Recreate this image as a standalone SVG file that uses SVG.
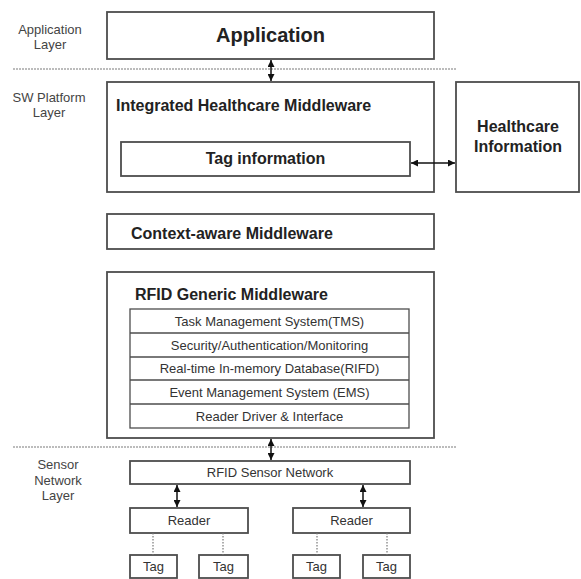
<svg xmlns="http://www.w3.org/2000/svg" width="581" height="579" viewBox="0 0 581 579">
  <style>
    .box { fill: #ffffff; stroke: #4d4d4d; stroke-width: 1.8; }
    .row { fill: none; stroke: #4d4d4d; stroke-width: 1.3; }
    .b16 { font-family: "Liberation Sans", Arial, sans-serif; font-weight: bold; font-size: 16px; fill: #222; }
    .b20 { font-family: "Liberation Sans", Arial, sans-serif; font-weight: bold; font-size: 20px; fill: #222; }
    .r13 { font-family: "Liberation Sans", Arial, sans-serif; font-size: 13px; fill: #333; }
    .lbl { font-family: "Liberation Sans", Arial, sans-serif; font-size: 13px; fill: #444; text-anchor: middle; }
    .mid { text-anchor: middle; }
    .layer { stroke: #a6a6a6; stroke-width: 1.6; stroke-dasharray: 2 1; fill: none; }
    .dot { stroke: #777; stroke-width: 1.2; stroke-dasharray: 1.5 1.5; fill: none; }
    .arr { stroke: #111; stroke-width: 1.5; fill: none; marker-start: url(#ah); marker-end: url(#ah); }
  </style>
  <defs>
    <marker id="ah" viewBox="0 0 7 7" refX="7" refY="3.5" markerWidth="7" markerHeight="7" orient="auto-start-reverse" markerUnits="userSpaceOnUse">
      <path d="M0,0 L7,3.5 L0,7 z" fill="#111"/>
    </marker>
  </defs>

  <g id="layer-labels">
    <text class="lbl" x="50" y="34">Application</text>
    <text class="lbl" x="50" y="49">Layer</text>
    <text class="lbl" x="49" y="102">SW Platform</text>
    <text class="lbl" x="49" y="117">Layer</text>
    <text class="lbl" x="58" y="469">Sensor</text>
    <text class="lbl" x="58" y="485">Network</text>
    <text class="lbl" x="58" y="500">Layer</text>
  </g>

  <g id="layer-lines">
    <line class="layer" x1="13" y1="69" x2="457" y2="69"/>
    <line class="layer" x1="13" y1="447" x2="457" y2="447"/>
  </g>

  <g id="application">
    <rect class="box" x="107" y="12" width="327" height="47"/>
    <text class="b20 mid" x="270.5" y="42">Application</text>
  </g>

  <g id="integrated-healthcare-middleware">
    <rect class="box" x="107" y="82" width="327" height="110"/>
    <text class="b16" x="116" y="111">Integrated Healthcare Middleware</text>
  </g>

  <g id="tag-information">
    <rect class="box" x="121" y="142" width="289" height="34"/>
    <text class="b16 mid" x="265.5" y="164">Tag information</text>
  </g>

  <g id="healthcare-information">
    <rect class="box" x="456" y="82" width="123" height="110"/>
    <text class="b16 mid" x="518" y="132">Healthcare</text>
    <text class="b16 mid" x="518" y="152">Information</text>
  </g>

  <g id="context-aware-middleware">
    <rect class="box" x="107" y="214" width="327" height="35"/>
    <text class="b16" x="131" y="239">Context-aware Middleware</text>
  </g>

  <g id="rfid-generic-middleware">
    <rect class="box" x="107" y="272" width="327" height="166"/>
    <text class="b16" x="135" y="300">RFID Generic Middleware</text>
    <rect class="row" x="130" y="309" width="279" height="119"/>
    <line class="row" x1="130" y1="333" x2="409" y2="333"/>
    <line class="row" x1="130" y1="357" x2="409" y2="357"/>
    <line class="row" x1="130" y1="380" x2="409" y2="380"/>
    <line class="row" x1="130" y1="404" x2="409" y2="404"/>
    <text class="r13 mid" x="269.5" y="326">Task Management System(TMS)</text>
    <text class="r13 mid" x="269.5" y="350">Security/Authentication/Monitoring</text>
    <text class="r13 mid" x="269.5" y="373">Real-time In-memory Database(RIFD)</text>
    <text class="r13 mid" x="269.5" y="397">Event Management System (EMS)</text>
    <text class="r13 mid" x="269.5" y="421">Reader Driver &amp; Interface</text>
  </g>

  <g id="rfid-sensor-network">
    <rect class="box" x="130" y="461" width="280" height="23"/>
    <text class="r13 mid" x="270" y="477">RFID Sensor Network</text>
  </g>

  <g id="reader-left">
    <rect class="box" x="130" y="508" width="118" height="25"/>
    <text class="r13 mid" x="189" y="525">Reader</text>
  </g>
  <g id="reader-right">
    <rect class="box" x="293" y="508" width="117" height="25"/>
    <text class="r13 mid" x="351.5" y="525">Reader</text>
  </g>

  <g id="tag-1">
    <rect class="box" x="130" y="555" width="47" height="23"/>
    <text class="r13 mid" x="153.5" y="571">Tag</text>
  </g>
  <g id="tag-2">
    <rect class="box" x="199" y="555" width="49" height="23"/>
    <text class="r13 mid" x="223.5" y="571">Tag</text>
  </g>
  <g id="tag-3">
    <rect class="box" x="293" y="555" width="47" height="23"/>
    <text class="r13 mid" x="316.5" y="571">Tag</text>
  </g>
  <g id="tag-4">
    <rect class="box" x="363" y="555" width="47" height="23"/>
    <text class="r13 mid" x="386.5" y="571">Tag</text>
  </g>

  <g id="connectors">
    <line class="arr" x1="271" y1="60" x2="271" y2="81"/>
    <line class="arr" x1="411" y1="163" x2="455" y2="163"/>
    <line class="arr" x1="271" y1="439" x2="271" y2="460"/>
    <line class="arr" x1="177" y1="485" x2="177" y2="507"/>
    <line class="arr" x1="363" y1="485" x2="363" y2="507"/>
    <line class="dot" x1="153" y1="533" x2="153" y2="555"/>
    <line class="dot" x1="223" y1="533" x2="223" y2="555"/>
    <line class="dot" x1="317" y1="533" x2="317" y2="555"/>
    <line class="dot" x1="387" y1="533" x2="387" y2="555"/>
  </g>
</svg>
